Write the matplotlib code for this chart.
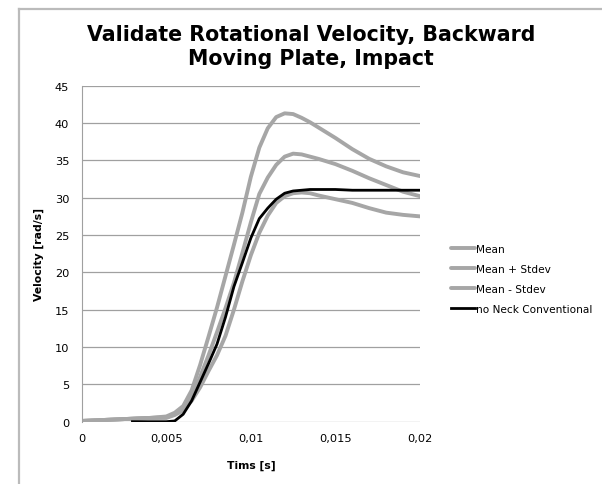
import numpy as np
import matplotlib
matplotlib.use("Agg")
import matplotlib.pyplot as plt
from matplotlib.ticker import FuncFormatter

# time axis for the three stat curves [s]
t = [0, 0.001, 0.002, 0.003, 0.004, 0.005, 0.0055, 0.006, 0.0065, 0.007,
     0.0075, 0.008, 0.0085, 0.009, 0.0095, 0.010, 0.0105, 0.011, 0.0115,
     0.012, 0.0125, 0.013, 0.0135, 0.014, 0.015, 0.016, 0.017, 0.018,
     0.019, 0.020]

mean = [0.1, 0.2, 0.3, 0.4, 0.5, 0.6, 1.0, 1.7, 3.4, 6.0,
        8.9, 12.0, 15.2, 18.6, 22.6, 26.7, 30.5, 32.7, 34.4,
        35.5, 35.9, 35.8, 35.5, 35.2, 34.5, 33.6, 32.6, 31.7,
        30.8, 30.2]

mean_plus = [0.1, 0.2, 0.3, 0.4, 0.5, 0.7, 1.2, 2.1, 4.2, 7.6,
             11.4, 15.3, 19.5, 23.7, 28.0, 32.8, 36.7, 39.3, 40.8,
             41.3, 41.2, 40.7, 40.1, 39.4, 38.0, 36.5, 35.2, 34.2,
             33.4, 32.9]

mean_minus = [0.1, 0.2, 0.3, 0.4, 0.5, 0.5, 0.9, 1.5, 2.8, 4.6,
              6.8, 8.9, 11.5, 15.0, 18.8, 22.3, 25.3, 27.6, 29.3,
              30.2, 30.6, 30.7, 30.6, 30.3, 29.8, 29.3, 28.6, 28.0,
              27.7, 27.5]

# simulation, no neck
t_sim = [0.003, 0.004, 0.005, 0.0055, 0.006, 0.0065, 0.007, 0.0075, 0.008,
         0.0085, 0.009, 0.0095, 0.010, 0.0105, 0.011, 0.0115, 0.012,
         0.0125, 0.013, 0.0135, 0.014, 0.015, 0.016, 0.017, 0.018, 0.019,
         0.020]
sim = [0, 0, 0, 0.1, 1.0, 2.8, 5.3, 7.8, 10.4,
       14.0, 18.1, 21.3, 24.6, 27.2, 28.6, 29.8, 30.6,
       30.9, 31.0, 31.1, 31.1, 31.1, 31.0, 31.0, 31.0, 31.0,
       31.0]

gray = "#a6a6a6"

fig = plt.figure(figsize=(6.02, 4.85), dpi=100)
ax = fig.add_axes([81.7 / 602, 1 - 422.7 / 485, (420 - 81.7) / 602, (422.7 - 86.7) / 485])

ax.plot(t, mean, color=gray, lw=2.8, label="Mean", solid_capstyle="round", solid_joinstyle="round")
ax.plot(t, mean_plus, color=gray, lw=2.8, label="Mean + Stdev", solid_capstyle="round", solid_joinstyle="round")
ax.plot(t, mean_minus, color=gray, lw=2.8, label="Mean - Stdev", solid_capstyle="round", solid_joinstyle="round")
ax.plot(t_sim, sim, color="black", lw=2.0, label="no Neck Conventional", solid_joinstyle="round")

ax.set_xlim(0, 0.02)
ax.set_ylim(0, 45)
ax.set_xticks([0, 0.005, 0.01, 0.015, 0.02])
ax.set_yticks(range(0, 46, 5))
ax.xaxis.set_major_formatter(FuncFormatter(lambda v, p: ("%g" % v).replace(".", ",")))
ax.tick_params(length=0, labelsize=8.2, colors="black", pad=8)
ax.tick_params(axis="y", pad=9)
ax.grid(axis="y", color="#a0a0a0", lw=0.9)
ax.set_axisbelow(True)
for s in ["top", "right", "bottom"]:
    ax.spines[s].set_visible(False)
ax.spines["left"].set_color("#a0a0a0")

ax.set_xlabel("Tims [s]", fontsize=7.8, fontweight="bold", labelpad=12)
ax.set_ylabel("Velocity [rad/s]", fontsize=7.8, fontweight="bold", labelpad=8)

fig.text(311, 485 - 47, "Validate Rotational Velocity, Backward\nMoving Plate, Impact",
         transform=None, ha="center", va="center", fontsize=14.8, fontweight="bold",
         linespacing=1.3)

ax.legend(loc="center left", bbox_to_anchor=(446 / 602, 1 - 280 / 485),
          bbox_transform=fig.transFigure, frameon=False, fontsize=7.6,
          handlelength=2.2, handletextpad=0.15, labelspacing=0.95, borderpad=0)

# chart frame (only top and left edges fall inside the picture)
fig.add_artist(plt.Line2D([19 / 602, 1.0], [1 - 9.5 / 485] * 2, transform=fig.transFigure,
                          color="#bbbbbb", lw=1.6))
fig.add_artist(plt.Line2D([19 / 602] * 2, [0, 1 - 9.5 / 485], transform=fig.transFigure,
                          color="#bbbbbb", lw=1.6))

fig.savefig("out.png", dpi=100)
